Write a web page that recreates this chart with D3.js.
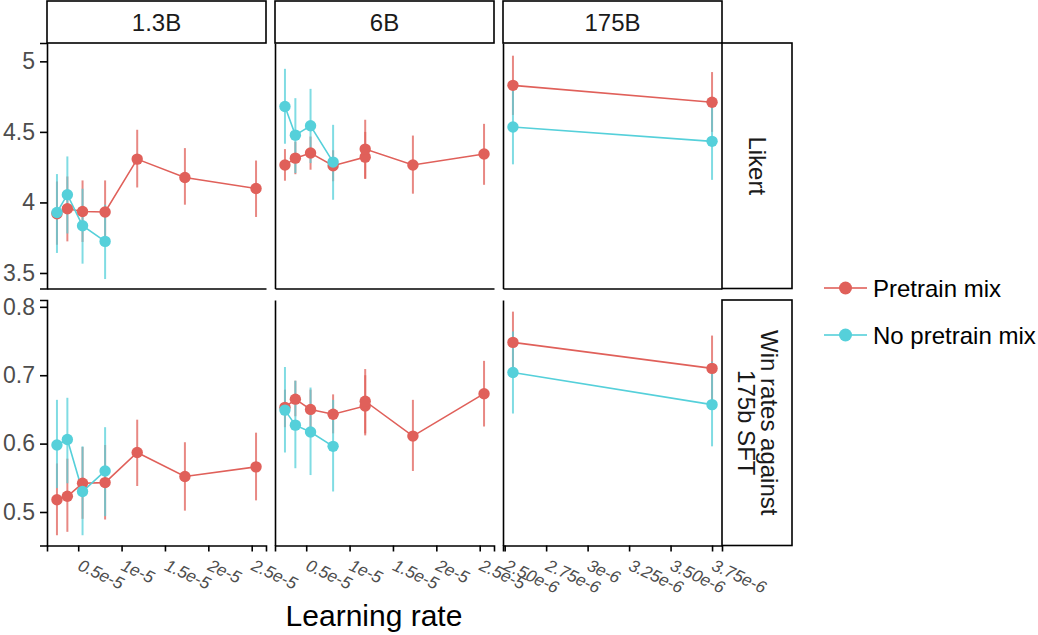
<!DOCTYPE html>
<html>
<head>
<meta charset="utf-8">
<script src="https://cdn.jsdelivr.net/npm/d3@7"></script>
<style>
  body { margin: 0; background: #fff; }
  text { font-family: "Liberation Sans", Arial, Helvetica, sans-serif; }
  .axis path, .axis line { stroke: #000; stroke-width: 1.6px; }
  .axis text { fill: #4d4d4d; }
</style>
</head>
<body>
<div id="chart"></div>
<script>
// facet labels
var models = ["1.3B", "6B", "175B"];
var metrics = ["Likert", "Win rates against|175b SFT"];
var seriesNames = ["Pretrain mix", "No pretrain mix"];

// learning rates per panel (6B pretrain mix has two runs at 1.18e-5)
var lr13Mix = [2.55e-6, 3.75e-6, 5.5e-6, 8.1e-6, 1.18e-5, 1.73e-5, 2.55e-5];
var lr13No = [2.55e-6, 3.75e-6, 5.5e-6, 8.1e-6];
var lr6Mix = [2.55e-6, 3.75e-6, 5.5e-6, 8.1e-6, 1.18e-5, 1.18e-5, 1.73e-5, 2.55e-5];
var lr6No = [2.55e-6, 3.75e-6, 5.5e-6, 8.1e-6];
var lr175 = [2.55e-6, 3.75e-6];

// Likert scores: mean, lower, upper
var lik13Mix = [3.92, 3.955, 3.936, 3.932, 4.307, 4.177, 4.099];
var lik13MixLo = [3.70, 3.724, 3.72, 3.71, 4.106, 3.984, 3.897];
var lik13MixHi = [4.149, 4.184, 4.156, 4.156, 4.515, 4.385, 4.297];
var lik13No = [3.929, 4.055, 3.835, 3.724];
var lik13NoLo = [3.642, 3.78, 3.566, 3.457];
var lik13NoHi = [4.201, 4.326, 4.097, 3.984];

var lik6Mix = [4.265, 4.314, 4.35, 4.26, 4.321, 4.378, 4.265, 4.343];
var lik6MixLo = [4.154, 4.20, 4.232, 4.15, 4.166, 4.17, 4.062, 4.125];
var lik6MixHi = [4.378, 4.43, 4.467, 4.37, 4.50, 4.586, 4.474, 4.557];
var lik6No = [4.68, 4.477, 4.543, 4.286];
var lik6NoLo = [4.416, 4.208, 4.279, 4.019];
var lik6NoHi = [4.947, 4.739, 4.805, 4.55];

var lik175Mix = [4.83, 4.71];
var lik175MixLo = [4.62, 4.50];
var lik175MixHi = [5.04, 4.924];
var lik175No = [4.535, 4.433];
var lik175NoLo = [4.27, 4.16];
var lik175NoHi = [4.80, 4.70];

// Win rates against 175b SFT: mean, lower, upper
var win13Mix = [0.518, 0.523, 0.542, 0.543, 0.587, 0.552, 0.566];
var win13MixLo = [0.466, 0.471, 0.49, 0.489, 0.538, 0.502, 0.517];
var win13MixHi = [0.571, 0.578, 0.595, 0.598, 0.635, 0.602, 0.616];
var win13No = [0.598, 0.606, 0.530, 0.560];
var win13NoLo = [0.535, 0.542, 0.466, 0.494];
var win13NoHi = [0.664, 0.667, 0.596, 0.624];

var win6Mix = [0.653, 0.665, 0.650, 0.643, 0.655, 0.662, 0.611, 0.673];
var win6MixLo = [0.624, 0.64, 0.62, 0.615, 0.612, 0.615, 0.560, 0.625];
var win6MixHi = [0.679, 0.692, 0.679, 0.672, 0.70, 0.709, 0.664, 0.721];
var win6No = [0.649, 0.627, 0.617, 0.596];
var win6NoLo = [0.587, 0.564, 0.554, 0.530];
var win6NoHi = [0.712, 0.692, 0.682, 0.664];

var win175Mix = [0.748, 0.71];
var win175MixLo = [0.703, 0.662];
var win175MixHi = [0.793, 0.758];
var win175No = [0.704, 0.657];
var win175NoLo = [0.644, 0.596];
var win175NoHi = [0.764, 0.72];

// axis ticks
var xTicksSmall = [5e-6, 1e-5, 1.5e-5, 2e-5, 2.5e-5];
var xLabelsSmall = ["0.5e-5", "1e-5", "1.5e-5", "2e-5", "2.5e-5"];
var xTicksBig = [2.5e-6, 2.75e-6, 3e-6, 3.25e-6, 3.5e-6, 3.75e-6];
var xLabelsBig = ["2.50e-6", "2.75e-6", "3e-6", "3.25e-6", "3.50e-6", "3.75e-6"];
var yTicksLikert = [3.5, 4, 4.5, 5];
var yTicksWin = [0.5, 0.6, 0.7, 0.8];
var yDomainLikert = [3.39, 5.13];
var yDomainWin = [0.451, 0.81];

var colors = ["#e0605a", "#55d0da"];

function series(lr, mean, lo, hi) {
  return lr.map(function (d, i) { return {lr: d, y: mean[i], lo: lo[i], hi: hi[i]}; });
}

// panels[row][col] = [pretrain mix, no pretrain mix]
var panels = [
  [
    [series(lr13Mix, lik13Mix, lik13MixLo, lik13MixHi), series(lr13No, lik13No, lik13NoLo, lik13NoHi)],
    [series(lr6Mix, lik6Mix, lik6MixLo, lik6MixHi), series(lr6No, lik6No, lik6NoLo, lik6NoHi)],
    [series(lr175, lik175Mix, lik175MixLo, lik175MixHi), series(lr175, lik175No, lik175NoLo, lik175NoHi)]
  ],
  [
    [series(lr13Mix, win13Mix, win13MixLo, win13MixHi), series(lr13No, win13No, win13NoLo, win13NoHi)],
    [series(lr6Mix, win6Mix, win6MixLo, win6MixHi), series(lr6No, win6No, win6NoLo, win6NoHi)],
    [series(lr175, win175Mix, win175MixLo, win175MixHi), series(lr175, win175No, win175NoLo, win175NoHi)]
  ]
];
var xTicks = [[xTicksSmall, xLabelsSmall], [xTicksSmall, xLabelsSmall], [xTicksBig, xLabelsBig]];
var yTicks = [yTicksLikert, yTicksWin];
var yDomains = [yDomainLikert, yDomainWin];

// layout
var width = 1038, height = 635;
var colX = [47, 275, 503], panelW = 219;
var rowY = [43, 300], panelH = 245.5;
var stripTop = 1, stripRightW = 70;

var svg = d3.select("#chart").append("svg")
    .attr("width", width)
    .attr("height", height)
    .style("background", "#fff");

// x scales: data extent expanded by 5% each side, one per column
var xScales = colX.map(function (x0, c) {
  var all = panels[0][c][0].concat(panels[0][c][1]);
  var ext = d3.extent(all, function (d) { return d.lr; });
  var pad = (ext[1] - ext[0]) * 0.05;
  return d3.scaleLinear().domain([ext[0] - pad, ext[1] + pad]).range([x0, x0 + panelW]);
});
var yScales = rowY.map(function (y0, r) {
  return d3.scaleLinear().domain(yDomains[r]).range([y0 + panelH, y0]);
});

rowY.forEach(function (y0, r) {
  colX.forEach(function (x0, c) {
    var xs = xScales[c], ys = yScales[r];
    var g = svg.append("g");

    // error bars first, then lines, then points
    panels[r][c].forEach(function (data, s) {
      g.selectAll(null).data(data).enter().append("line")
        .attr("x1", function (d) { return xs(d.lr); })
        .attr("x2", function (d) { return xs(d.lr); })
        .attr("y1", function (d) { return ys(d.lo); })
        .attr("y2", function (d) { return ys(d.hi); })
        .attr("stroke", colors[s])
        .attr("stroke-width", 2)
        .attr("stroke-opacity", 0.75);
    });
    panels[r][c].forEach(function (data, s) {
      var line = d3.line()
          .x(function (d) { return xs(d.lr); })
          .y(function (d) { return ys(d.y); });
      g.append("path")
        .attr("d", line(data))
        .attr("fill", "none")
        .attr("stroke", colors[s])
        .attr("stroke-width", 1.6);
    });
    panels[r][c].forEach(function (data, s) {
      g.selectAll(null).data(data).enter().append("circle")
        .attr("cx", function (d) { return xs(d.lr); })
        .attr("cy", function (d) { return ys(d.y); })
        .attr("r", 5.7)
        .attr("fill", colors[s]);
    });

    // y axis: labels only on the first column
    var yAxis = d3.axisLeft(ys).tickSizeOuter(0);
    if (c === 0) {
      yAxis.tickValues(yTicks[r]).tickSize(7).tickPadding(5).tickFormat(function (d) { return String(d); });
    } else {
      yAxis.tickValues([]);
    }
    var ya = svg.append("g")
      .attr("class", "axis")
      .attr("transform", "translate(" + x0 + ",0)")
      .call(yAxis);
    ya.selectAll("text").style("font-size", "23px");

    // x axis: ticks only on the bottom row
    var xAxis = d3.axisBottom(xs).tickSizeOuter(0);
    if (r === 1) {
      xAxis.tickValues(xTicks[c][0]).tickSize(6)
        .tickFormat(function (d, i) { return xTicks[c][1][i]; });
    } else {
      xAxis.tickValues([]);
    }
    var xa = svg.append("g")
      .attr("class", "axis")
      .attr("transform", "translate(0," + (y0 + panelH) + ")")
      .call(xAxis);
    xa.selectAll("text")
      .attr("y", 0)
      .attr("dy", 0)
      .attr("text-anchor", "start")
      .attr("dominant-baseline", "hanging")
      .attr("transform", "translate(3,13) rotate(25)")
      .style("font-size", "17px")
      .style("font-style", "italic");
  });
});

// top strips
colX.forEach(function (x0, c) {
  svg.append("rect")
    .attr("x", x0).attr("y", stripTop)
    .attr("width", panelW).attr("height", rowY[0] - stripTop)
    .attr("fill", "#fff").attr("stroke", "#000").attr("stroke-width", 1.6);
  svg.append("text")
    .attr("x", x0 + panelW / 2)
    .attr("y", (stripTop + rowY[0]) / 2)
    .attr("text-anchor", "middle")
    .attr("dominant-baseline", "central")
    .style("font-size", "24px")
    .attr("fill", "#1a1a1a")
    .text(models[c]);
});

// right strips
var stripX = colX[2] + panelW;
rowY.forEach(function (y0, r) {
  svg.append("rect")
    .attr("x", stripX).attr("y", y0)
    .attr("width", stripRightW).attr("height", panelH)
    .attr("fill", "#fff").attr("stroke", "#000").attr("stroke-width", 1.6);
  var lines = metrics[r].split("|");
  var t = svg.append("text")
    .attr("transform", "translate(" + (stripX + stripRightW / 2 + 1) + "," + (y0 + panelH / 2) + ") rotate(90)")
    .attr("text-anchor", "middle")
    .attr("dominant-baseline", "central")
    .style("font-size", "24px")
    .attr("fill", "#1a1a1a");
  lines.forEach(function (l, i) {
    t.append("tspan")
      .attr("x", 0)
      .attr("y", (i - (lines.length - 1) / 2) * 23)
      .text(l);
  });
});

// axis title
svg.append("text")
  .attr("x", 374)
  .attr("y", 626)
  .attr("text-anchor", "middle")
  .style("font-size", "30px")
  .attr("fill", "#000")
  .text("Learning rate");

// legend
var legend = svg.append("g").attr("transform", "translate(824,288)");
seriesNames.forEach(function (name, i) {
  var row = legend.append("g").attr("transform", "translate(0," + (i * 47) + ")");
  row.append("line")
    .attr("x1", 0).attr("x2", 43)
    .attr("stroke", colors[i]).attr("stroke-width", 2).attr("stroke-opacity", 0.8);
  row.append("circle")
    .attr("cx", 21.5).attr("r", 6.5)
    .attr("fill", colors[i]);
  row.append("text")
    .attr("x", 49)
    .attr("dominant-baseline", "central")
    .style("font-size", "24px")
    .attr("fill", "#000")
    .text(name);
});
</script>
</body>
</html>
